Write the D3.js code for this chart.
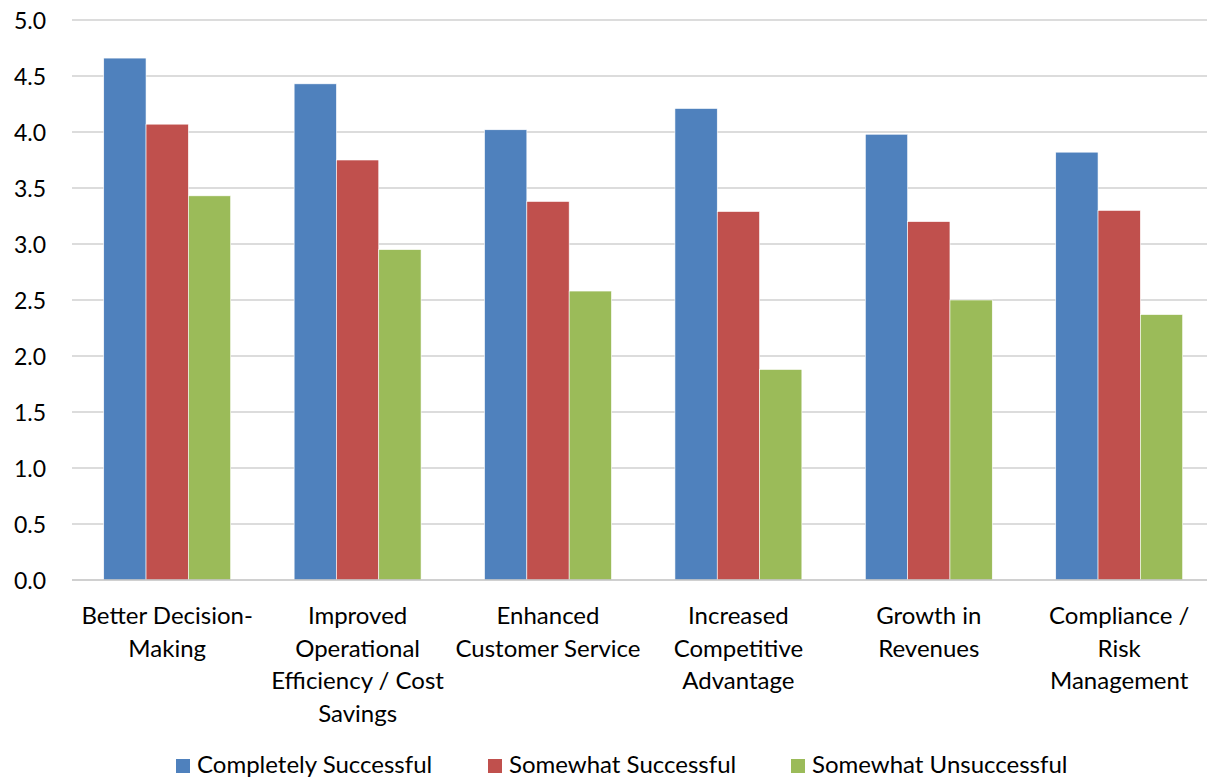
<!DOCTYPE html>
<html>
<head>
<meta charset="utf-8">
<script src="https://cdn.jsdelivr.net/npm/d3@7"></script>
<style>
  body { margin: 0; background: #fff; }
  svg text { font-family: Lato, "Open Sans", sans-serif; fill: #000; }
</style>
</head>
<body>
<div class="container"></div>
<script>
var w = 1207;
var h = 780;

// data
var categories = ["Better Decision-Making", "Improved Operational Efficiency / Cost Savings",
  "Enhanced Customer Service", "Increased Competitive Advantage", "Growth in Revenues",
  "Compliance / Risk Management"];
var categoryLines = [
  ["Better Decision-", "Making"],
  ["Improved", "Operational", "Efficiency / Cost", "Savings"],
  ["Enhanced", "Customer Service"],
  ["Increased", "Competitive", "Advantage"],
  ["Growth in", "Revenues"],
  ["Compliance /", "Risk", "Management"]
];
var seriesNames = ["Completely Successful", "Somewhat Successful", "Somewhat Unsuccessful"];
var completelySuccessful = [4.66, 4.43, 4.02, 4.21, 3.98, 3.82];
var somewhatSuccessful = [4.07, 3.75, 3.38, 3.29, 3.20, 3.30];
var somewhatUnsuccessful = [3.43, 2.95, 2.58, 1.88, 2.50, 2.37];
var yTicks = [0, 0.5, 1, 1.5, 2, 2.5, 3, 3.5, 4, 4.5, 5];
var colors = ["#4F81BD", "#C0504D", "#9BBB59"];

var series = [completelySuccessful, somewhatSuccessful, somewhatUnsuccessful];

var margin = {left: 72, right: -7.4, top: 20, bottom: 200};

var svg = d3.select(".container").append("svg")
  .attr("width", w)
  .attr("height", h);

var xScale = d3.scaleBand().domain(categories).range([margin.left, w - margin.right]).paddingInner(0).paddingOuter(0);
var xInner = d3.scaleBand().domain(seriesNames).range([0, xScale.bandwidth()]).paddingOuter(0.75).paddingInner(0);
var yScale = d3.scaleLinear().domain([0, 5]).range([h - margin.bottom, margin.top]);

// gridlines
svg.append("g").selectAll("line").data(yTicks.filter(d => d > 0)).enter().append("line")
  .attr("x1", margin.left).attr("x2", w)
  .attr("y1", d => yScale(d)).attr("y2", d => yScale(d))
  .attr("stroke", "#d0d0d0").attr("stroke-width", 1.5);

// y axis labels
var yAxis = d3.axisLeft(yScale).tickValues(yTicks).tickFormat(d3.format(".1f")).tickSize(0).tickPadding(26);
var yg = svg.append("g").attr("transform", "translate(" + margin.left + ",0)").call(yAxis);
yg.select(".domain").remove();
yg.selectAll("text").style("font-size", "23px").attr("dy", "0.35em").attr("fill", "#000");

// bars
series.forEach(function (vals, si) {
  svg.append("g").selectAll("rect").data(vals).enter().append("rect")
    .attr("x", (d, i) => xScale(categories[i]) + xInner(seriesNames[si]))
    .attr("width", xInner.bandwidth())
    .attr("y", d => yScale(d))
    .attr("height", d => yScale(0) - yScale(d))
    .attr("fill", colors[si])
    .attr("stroke", "#fff").attr("stroke-width", 0.6);
});

// x axis line
svg.append("line")
  .attr("x1", margin.left).attr("x2", w)
  .attr("y1", yScale(0)).attr("y2", yScale(0))
  .attr("stroke", "#c0c0c0").attr("stroke-width", 1.5);

// category labels
var catG = svg.append("g");
categories.forEach(function (c, i) {
  var t = catG.append("text")
    .attr("x", xScale(c) + xScale.bandwidth() / 2)
    .attr("y", 624)
    .attr("text-anchor", "middle")
    .style("font-size", "24px");
  categoryLines[i].forEach(function (line, j) {
    t.append("tspan").attr("x", xScale(c) + xScale.bandwidth() / 2).attr("dy", j === 0 ? 0 : 32.7).text(line);
  });
});

// legend (kept just inside the bottom edge)
var legendX = [176, 488, 791];
var legend = svg.append("g");
seriesNames.forEach(function (name, i) {
  legend.append("rect").attr("x", legendX[i]).attr("y", 759).attr("width", 14).attr("height", 14).attr("fill", colors[i]);
  legend.append("text").attr("x", legendX[i] + 21).attr("y", 773).style("font-size", "24px").text(name);
});
</script>
</body>
</html>
